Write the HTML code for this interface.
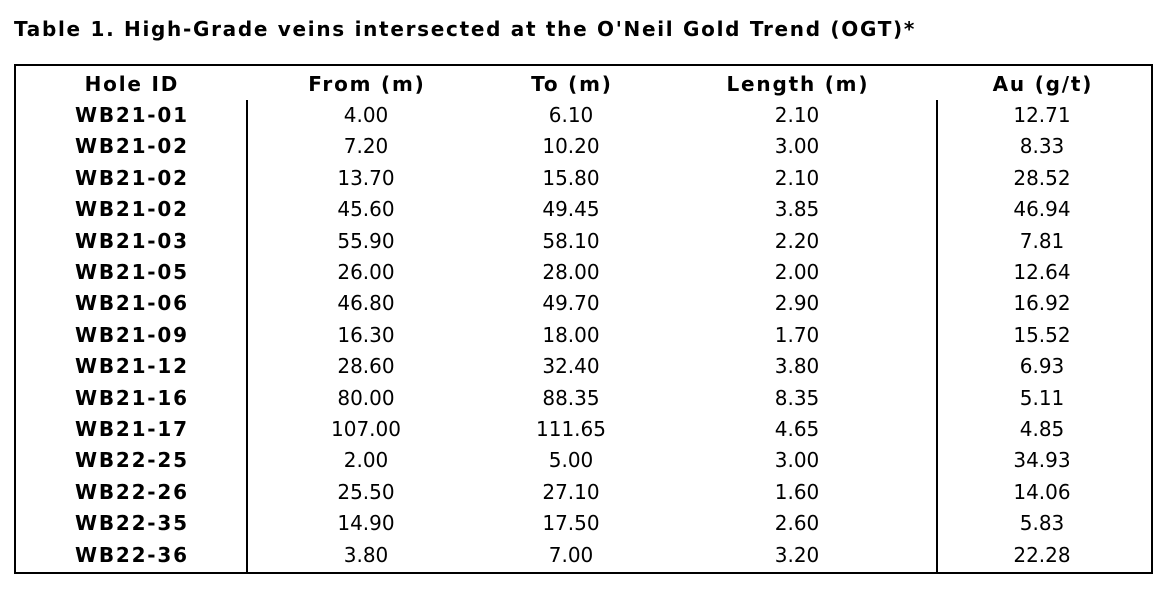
<!DOCTYPE html>
<html><head><meta charset="utf-8"><style>
body{margin:0;width:1158px;height:591px;background:#fff;position:relative;font-family:"DejaVu Sans","Liberation Sans",sans-serif;color:#000;overflow:hidden}
.t{position:absolute;left:14px;top:17px;font-size:20px;font-weight:bold;white-space:nowrap;letter-spacing:1.7px}
.box{position:absolute;left:14px;top:64px;width:1135px;height:506px;border:2px solid #000}
.v{position:absolute;top:100px;width:2px;height:472px;background:#000}
.c{position:absolute;font-size:20px;text-align:center;width:240px;margin-left:-120px;white-space:nowrap;line-height:24px}
.b{font-weight:bold;letter-spacing:1.8px;text-indent:1.8px}
</style></head><body>
<div class="t">Table 1. High-Grade veins intersected at the O'Neil Gold Trend (OGT)*</div>
<div class="box"></div>
<div class="v" style="left:246px"></div>
<div class="v" style="left:936px"></div>
<div id="rows"></div>
<script>
var cols=[131,366,571,797,1042];
var hdr=["Hole ID","From (m)","To (m)","Length (m)","Au (g/t)"];
var d=[["WB21-01","4.00","6.10","2.10","12.71"],["WB21-02","7.20","10.20","3.00","8.33"],["WB21-02","13.70","15.80","2.10","28.52"],["WB21-02","45.60","49.45","3.85","46.94"],["WB21-03","55.90","58.10","2.20","7.81"],["WB21-05","26.00","28.00","2.00","12.64"],["WB21-06","46.80","49.70","2.90","16.92"],["WB21-09","16.30","18.00","1.70","15.52"],["WB21-12","28.60","32.40","3.80","6.93"],["WB21-16","80.00","88.35","8.35","5.11"],["WB21-17","107.00","111.65","4.65","4.85"],["WB22-25","2.00","5.00","3.00","34.93"],["WB22-26","25.50","27.10","1.60","14.06"],["WB22-35","14.90","17.50","2.60","5.83"],["WB22-36","3.80","7.00","3.20","22.28"]];
var h="";
hdr.forEach(function(s,i){h+='<div class="c b" style="left:'+cols[i]+'px;top:72px">'+s+'</div>';});
d.forEach(function(r,j){var y=103+j*31.4;r.forEach(function(s,i){h+='<div class="c'+(i==0?' b':'')+'" style="left:'+cols[i]+'px;top:'+y+'px">'+s+'</div>';});});
document.getElementById("rows").innerHTML=h;
</script>
</body></html>
